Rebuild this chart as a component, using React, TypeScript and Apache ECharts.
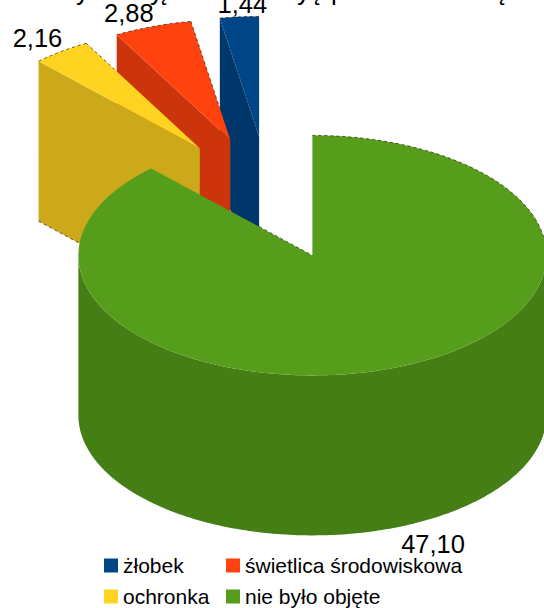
import React, { useEffect, useRef } from "react";
import * as echarts from "echarts";

const names = ["żłobek", "świetlica środowiskowa", "ochronka", "nie było objęte"];
const values = [1.44, 2.88, 2.16, 47.1];
const topColors = ["#004586", "#ff420e", "#ffd320", "#579d1c"];
const wallColors = ["#00376b", "#cc350b", "#cca91a", "#467e16"];
// only the bottoms of the title's letters are inside the picture
const titleLetters = ["y", "y", "ę", "y", "ę", "p", "ę"];
const titleLetterX = [76, 150, 156, 297, 309, 331, 494];

const CX = 269;
const CY = 198;
const RX = 234;
const RY = 120;
const DEPTH = 160;
const EXPLODE_X = 0.5;
const EXPLODE_Y = 0.515;
// part of each slice's clockwise edge (0 = rim, 1 = apex) that shows the rough rim line
const rimEdgeRange = [
  [0, 0],
  [0, 0.73],
  [0, 0.25],
  [0.67, 1],
];
const total = values.reduce((a, b) => a + b, 0);

const dir = (deg: number) => {
  const r = (deg * Math.PI) / 180;
  return [Math.sin(r), -Math.cos(r)];
};

function sliceRange(i: number) {
  // slices run counter-clockwise from twelve o'clock, in data order
  const before = values.slice(0, i).reduce((a, b) => a + b, 0);
  const end = 360 - (before / total) * 360;
  const start = end - (values[i] / total) * 360;
  return [start, end];
}

const rimStyle = { stroke: "rgba(20,20,0,0.65)", lineWidth: 1, lineDash: [3, 3], fill: "none" };

function renderSlice(i: number) {
  return (params: any, api: any) => {
    const value = api.value(0);
    const [a0, a1] = sliceRange(i);
    const mid = (a0 + a1) / 2;
    const md = dir(mid);
    const ax = CX + md[0] * RX * EXPLODE_X;
    const ay = CY + md[1] * RY * EXPLODE_Y;
    const pt = (deg: number) => {
      const d = dir(deg);
      return [ax + d[0] * RX, ay + d[1] * RY];
    };
    const arc: number[][] = [];
    const degs: number[] = [];
    const n = Math.max(2, Math.ceil(a1 - a0));
    for (let k = 0; k <= n; k++) {
      const deg = a0 + ((a1 - a0) * k) / n;
      degs.push(deg);
      arc.push(pt(deg));
    }

    const children: any[] = [];
    // cut face on the counter-clockwise edge, when it turns toward the viewer
    if (Math.sin((a0 * Math.PI) / 180) < -0.001) {
      const p = pt(a0);
      children.push({
        type: "polygon",
        shape: { points: [[ax, ay], p, [p[0], p[1] + DEPTH], [ax, ay + DEPTH]] },
        style: { fill: wallColors[i] },
      });
      children.push({
        type: "polyline",
        shape: { points: [[p[0], p[1] + DEPTH], [ax, ay + DEPTH]] },
        style: rimStyle,
      });
    }
    // outer wall on the front half of the ellipse
    const front = arc.filter((_, k) => degs[k] >= 90 && degs[k] <= 270);
    if (front.length > 1) {
      const lower = front.map((p) => [p[0], p[1] + DEPTH]).reverse();
      children.push({
        type: "polygon",
        shape: { points: [...front, ...lower] },
        style: { fill: wallColors[i] },
      });
    }
    children.push({
      type: "polygon",
      shape: { points: [[ax, ay], ...arc] },
      style: { fill: topColors[i] },
    });
    // rough rim line where the top face meets the white page
    const back = arc.filter((_, k) => (i === 3 ? degs[k] <= 90 : degs[k] >= 270));
    if (back.length > 1) {
      children.push({ type: "polyline", shape: { points: back }, style: rimStyle });
    }
    const [f0, f1] = rimEdgeRange[i];
    if (f1 > f0) {
      const e = pt(a1);
      const at = (f: number) => [e[0] + (ax - e[0]) * f, e[1] + (ay - e[1]) * f];
      children.push({ type: "polyline", shape: { points: [at(f0), at(f1)] }, style: rimStyle });
    }
    // value label at the middle of the outer edge
    const mp = pt(mid);
    const below = md[1] > 0;
    children.push({
      type: "text",
      x: mp[0] + (md[0] > 0.2 ? 2 : md[0] < -0.2 ? 1 : 3),
      y: below ? mp[1] + DEPTH + 4 : mp[1],
      style: {
        text: value.toFixed(2).replace(".", ","),
        font: "25.5px 'Liberation Sans'",
        fill: "#000",
        align: md[0] < -0.2 ? "right" : md[0] > 0.2 ? "left" : "center",
        verticalAlign: below ? "top" : "bottom",
      },
    });
    return { type: "group", children };
  };
}

export default function App() {
  const ref = useRef<HTMLDivElement>(null);
  useEffect(() => {
    document.body.style.margin = "0";
    const chart = echarts.init(ref.current!, null, { renderer: "svg" });
    const legendText = {
      fontFamily: "'Liberation Sans'",
      fontSize: 21,
      color: "#000",
    };
    const legendBase = {
      orient: "vertical" as const,
      icon: "rect",
      top: 555,
      itemWidth: 14,
      itemHeight: 14,
      itemGap: 10,
      padding: 0,
      selectedMode: false,
      textStyle: legendText,
    };
    chart.setOption({
      animation: false,
      backgroundColor: "#fff",
      legend: [
        { ...legendBase, left: 104, data: [names[0], names[2]] },
        { ...legendBase, left: 226, data: [names[1], names[3]] },
      ],
      graphic: titleLetters.map((t, i) => ({
        type: "text",
        x: titleLetterX[i],
        y: -22,
        z: -1,
        style: { text: t, font: "26px 'Liberation Sans'", fill: "#000" },
      })),
      series: values.map((v, i) => ({
        type: "custom",
        name: names[i],
        coordinateSystem: "none",
        silent: true,
        itemStyle: { color: topColors[i] },
        data: [[v]],
        z: 2 + i,
        renderItem: renderSlice(i),
      })),
    });
    return () => chart.dispose();
  }, []);
  return <div ref={ref} style={{ width: 544, height: 608 }} />;
}
